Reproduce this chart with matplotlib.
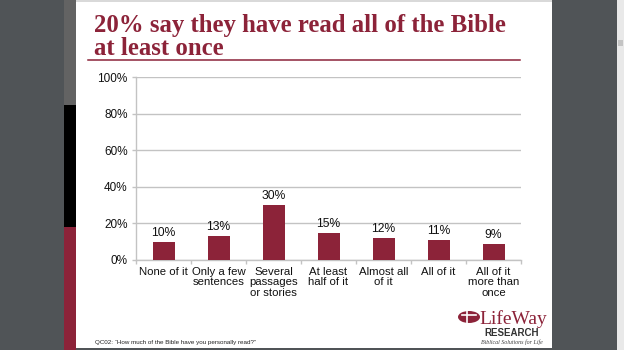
import matplotlib
matplotlib.use("Agg")
import matplotlib.pyplot as plt
from matplotlib.patches import Rectangle, Ellipse
import numpy as np

categories = ["None of it", "Only a few\nsentences", "Several\npassages\nor stories",
              "At least\nhalf of it", "Almost all\nof it", "All of it",
              "All of it\nmore than\nonce"]
values = [10, 13, 30, 15, 12, 11, 9]
y_ticks = [0, 20, 40, 60, 80, 100]
title_lines = ["20% say they have read all of the Bible", "at least once"]

W, H = 624, 350
MAROON = "#8c2339"
GRID = "#c3c3c3"


def fx(x):
    return x / W


def fy(y):
    return 1 - y / H


def rect(fig, x0, y0, x1, y1, color, z=0):
    fig.add_artist(Rectangle((fx(x0), fy(y1)), (x1 - x0) / W, (y1 - y0) / H,
                             transform=fig.transFigure, facecolor=color,
                             edgecolor="none", zorder=z))


fig = plt.figure(figsize=(W / 100, H / 100), dpi=100, facecolor="#505457")

# slide frame, side strip, scrollbar
rect(fig, 76, 0, 552, 1.5, "#d9d9d9")
rect(fig, 76, 1.5, 552, 348, "white")
rect(fig, 64, 0, 76, 105, "#636363")
rect(fig, 64, 105, 76, 227, "black")
rect(fig, 64, 227, 76, 350, MAROON)
rect(fig, 617, 0, 624, 350, "#e9e9e9")
rect(fig, 618, 40, 623, 46, "#c4c4c4")

# title
for line, base in zip(title_lines, [32, 55]):
    fig.text(fx(94), fy(base), line, family="Liberation Serif", weight="bold",
             fontsize=17.8, color=MAROON, ha="left", va="baseline")
fig.add_artist(plt.Line2D([fx(88), fx(520)], [fy(60), fy(60)],
                          transform=fig.transFigure, color=MAROON, lw=1.1))

# chart
ax = fig.add_axes([fx(136), fy(260), (521 - 136) / W, (260 - 77) / H])
ax.set_facecolor("none")
x = np.arange(len(categories))
ax.bar(x, values, width=0.4, color=MAROON, zorder=3)
for xi, v in zip(x, values):
    ax.text(xi, v + 1.5, f"{v}%", ha="center", va="bottom",
            family="Liberation Sans", fontsize=8.7, color="#111111")

ax.set_xlim(-0.5, len(categories) - 0.5)
ax.set_ylim(0, 100)
ax.set_yticks(y_ticks)
ax.set_yticklabels([f"{t}%" for t in y_ticks], family="Liberation Sans",
                   fontsize=8.5, color="#111111")
ax.set_xticks(x)
ax.set_xticklabels(categories, family="Liberation Sans", fontsize=8.2,
                   color="#111111", linespacing=1.05, va="top")
ax.set_xticks(np.arange(len(categories) + 1) - 0.5, minor=True)
ax.tick_params(axis="x", which="major", length=0, pad=5)
ax.tick_params(axis="x", which="minor", length=3, color=GRID, width=1)
ax.tick_params(axis="y", length=3, color=GRID, width=1, pad=3)
ax.grid(axis="y", color=GRID, lw=1, zorder=0)
for side in ["top", "right"]:
    ax.spines[side].set_visible(False)
for side in ["left", "bottom"]:
    ax.spines[side].set_color(GRID)
    ax.spines[side].set_linewidth(1)

# footnote
fig.text(fx(95), fy(344), "QC02: \u201cHow much of the Bible have you personally read?\u201d",
         family="Liberation Sans", fontsize=4.5, color="#222222", va="baseline")

# logo
fig.add_artist(Ellipse((fx(469), fy(317)), 22 / W, 12 / H, transform=fig.transFigure,
                       facecolor=MAROON, edgecolor="none"))
fig.add_artist(plt.Line2D([fx(462), fx(476)], [fy(315), fy(315)],
                          transform=fig.transFigure, color="white", lw=1.2))
fig.add_artist(plt.Line2D([fx(467), fx(467)], [fy(311), fy(323)],
                          transform=fig.transFigure, color="white", lw=1.2))
fig.text(fx(479), fy(324), "LifeWay", family="Liberation Serif", fontsize=14,
         color=MAROON, va="baseline")
fig.text(fx(484), fy(335.5), "RESEARCH", family="Liberation Sans", weight="bold",
         fontsize=7, color="#333333", va="baseline")
fig.text(fx(481), fy(344), "Biblical Solutions for Life", family="Liberation Serif",
         style="italic", fontsize=4.3, color="#444444", va="baseline")

fig.savefig("out.png", dpi=100, facecolor=fig.get_facecolor())
